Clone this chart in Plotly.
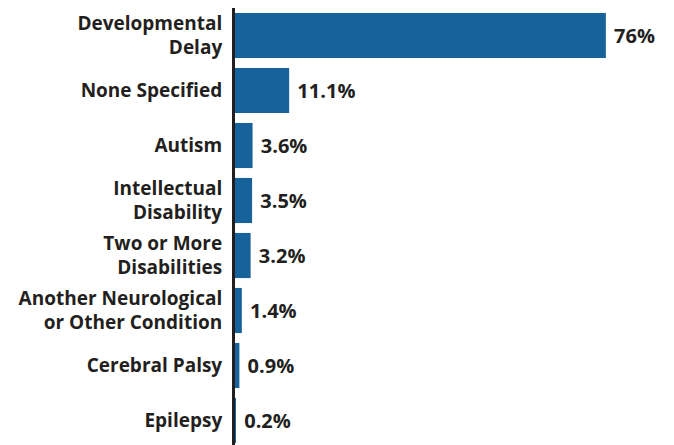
import plotly.graph_objects as go

categories = ['Developmental<br>Delay',
              'None Specified',
              'Autism',
              'Intellectual<br>Disability',
              'Two or More<br>Disabilities',
              'Another Neurological<br>or Other Condition',
              'Cerebral Palsy',
              'Epilepsy']
values = [76, 11.1, 3.6, 3.5, 3.2, 1.4, 0.9, 0.2]
value_labels = ['76%', '11.1%', '3.6%', '3.5%', '3.2%', '1.4%', '0.9%', '0.2%']

BAR_COLOR = '#17629a'
TEXT_COLOR = '#231f20'
FONT = 'Open Sans, sans-serif'

fig = go.Figure(go.Bar(x=values,
                       y=categories,
                       orientation='h',
                       marker=dict(color=BAR_COLOR, line=dict(width=0)),
                       # nbsp keeps a small gap between bar end and label
                       text=['\u00a0' + t for t in value_labels],
                       textposition='outside',
                       textfont=dict(family=FONT, size=20, color=TEXT_COLOR,
                                     weight='bold'),
                       cliponaxis=False,
                       hoverinfo='skip'))

fig.update_layout(width=674,
                  height=445,
                  margin=dict(l=227, r=0, t=0, b=5, pad=0, autoexpand=False),
                  paper_bgcolor='white',
                  plot_bgcolor='white',
                  bargap=0.18,
                  showlegend=False,
                  font=dict(family=FONT, color=TEXT_COLOR),
                  xaxis=dict(range=[0, 91.6],
                             visible=False,
                             showgrid=False,
                             zeroline=False,
                             automargin=False),
                  yaxis=dict(autorange='reversed',
                             automargin=False,
                             showgrid=False,
                             zeroline=False,
                             showline=True,
                             linecolor=TEXT_COLOR,
                             linewidth=3,
                             ticks='',
                             ticklabelstandoff=6,
                             tickfont=dict(family=FONT, size=19,
                                           color=TEXT_COLOR, weight='bold')))

fig.write_html("out.html")
